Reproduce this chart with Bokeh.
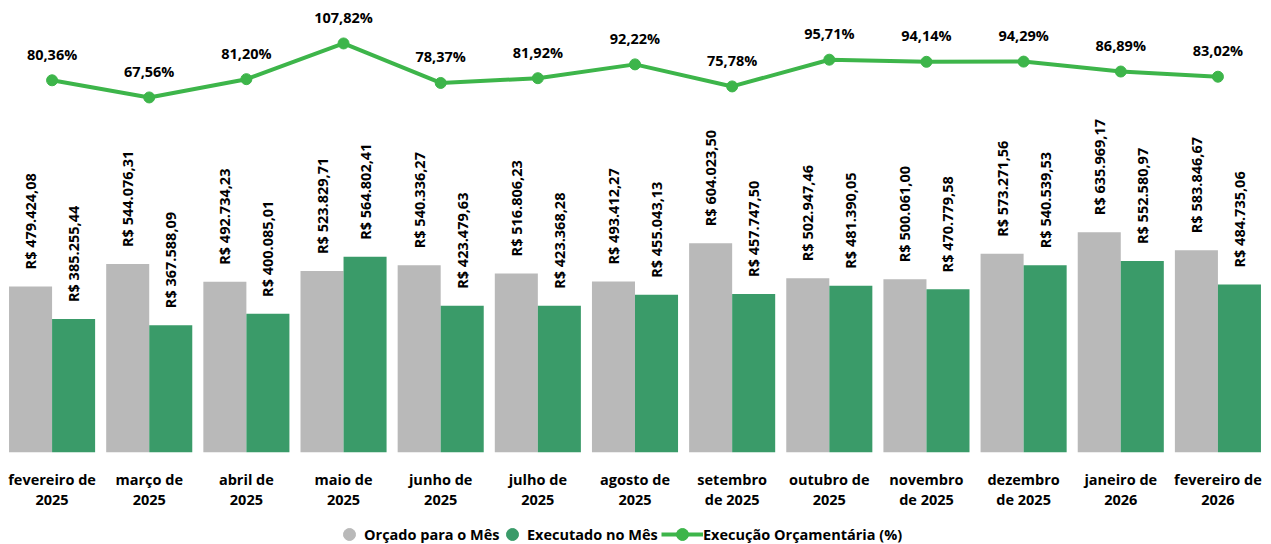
import math
from bokeh.plotting import figure
from bokeh.layouts import column
from bokeh.models import (ColumnDataSource, Range1d, LabelSet, FactorRange, Legend, LegendItem)
from bokeh.transform import dodge
from bokeh.core.properties import value
from bokeh.embed import file_html
from bokeh.resources import INLINE

months = ["fevereiro de\n2025", "março de\n2025", "abril de\n2025", "maio de\n2025",
          "junho de\n2025", "julho de\n2025", "agosto de\n2025", "setembro\nde 2025",
          "outubro de\n2025", "novembro\nde 2025", "dezembro\nde 2025", "janeiro de\n2026",
          "fevereiro de\n2026"]
orcado = [479424.08, 544076.31, 492734.23, 523829.71, 540336.27, 516806.23, 493412.27,
          604023.50, 502947.46, 500061.00, 573271.56, 635969.17, 583846.67]
executado = [385255.44, 367588.09, 400085.01, 564802.41, 423479.63, 423368.28, 455043.13,
             457747.50, 481390.05, 470779.58, 540539.53, 552580.97, 484735.06]
execucao_pct = [80.36, 67.56, 81.20, 107.82, 78.37, 81.92, 92.22, 75.78, 95.71, 94.14,
                94.29, 86.89, 83.02]
series_names = ["Orçado para o Mês", "Executado no Mês", "Execução Orçamentária (%)"]


def brl(v):
    s = f"{v:,.2f}"
    s = s.replace(",", "X").replace(".", ",").replace("X", ".")
    return "R$ " + s


def pct_fmt(v):
    return f"{v:.2f}".replace(".", ",") + "%"


src = ColumnDataSource(dict(
    cat=months,
    orcado=orcado,
    executado=executado,
    pct=execucao_pct,
    orc_lbl=[brl(v) for v in orcado],
    exe_lbl=[brl(v) for v in executado],
    pct_lbl=[pct_fmt(v) for v in execucao_pct],
))

FONT = "Open Sans"
GRAY = "#B9B9B9"
GREEN = "#3A9B69"
LINE = "#3DB54A"

p = figure(width=1271, height=512, x_range=FactorRange(factors=months, range_padding=0),
           y_range=Range1d(0, 1275600), output_backend="svg", toolbar_location=None,
           min_border_left=3, min_border_right=5, min_border_top=10, min_border_bottom=0)
p.extra_y_ranges = {"pct": Range1d(start=-197.2, end=132.4)}
p.outline_line_color = None
p.xgrid.visible = False
p.ygrid.visible = False
p.yaxis.visible = False

bw = 0.443
r_orc = p.vbar(x=dodge("cat", -bw / 2, range=p.x_range), top="orcado", width=bw, source=src,
               fill_color=GRAY, line_color=None)
r_exe = p.vbar(x=dodge("cat", bw / 2, range=p.x_range), top="executado", width=bw, source=src,
               fill_color=GREEN, line_color=None)

r_line = p.line(x="cat", y="pct", source=src, y_range_name="pct", line_color=LINE, line_width=4)
r_pts = p.scatter(x="cat", y="pct", source=src, y_range_name="pct", size=11, marker="circle",
                  fill_color=LINE, line_color=LINE)

lbl_orc = LabelSet(x=dodge("cat", -bw / 2, range=p.x_range), y="orcado", text="orc_lbl", source=src,
                   angle=math.pi / 2, text_align="left", text_baseline="middle", y_offset=17,
                   text_font=value(FONT), text_font_style="bold", text_font_size="14.5px",
                   text_color="black")
lbl_exe = LabelSet(x=dodge("cat", bw / 2, range=p.x_range), y="executado", text="exe_lbl", source=src,
                   angle=math.pi / 2, text_align="left", text_baseline="middle", y_offset=17,
                   text_font=value(FONT), text_font_style="bold", text_font_size="14.5px",
                   text_color="black")
lbl_pct = LabelSet(x="cat", y="pct", text="pct_lbl", source=src, y_range_name="pct",
                   text_align="center", text_baseline="middle", y_offset=26,
                   text_font=value(FONT), text_font_style="bold", text_font_size="14.5px",
                   text_color="black")
p.add_layout(lbl_orc)
p.add_layout(lbl_exe)
p.add_layout(lbl_pct)

ax = p.xaxis[0]
ax.axis_line_color = None
ax.major_tick_line_color = None
ax.minor_tick_line_color = None
ax.major_tick_out = 0
ax.major_tick_in = 0
ax.major_label_text_font = FONT
ax.major_label_text_font_style = "bold"
ax.major_label_text_font_size = "14.5px"
ax.major_label_text_line_height = 1.1
ax.major_label_text_color = "black"
ax.major_label_standoff = 17

# legend in its own strip below the chart
lg = figure(width=1271, height=32, x_range=Range1d(0, 1), y_range=Range1d(0, 1),
            output_backend="svg", toolbar_location=None,
            min_border_left=0, min_border_right=0, min_border_top=0, min_border_bottom=0)
lg.outline_line_color = None
lg.axis.visible = False
lg.grid.visible = False
nan = float("nan")
lsrc = ColumnDataSource(dict(x=[nan, nan], y=[nan, nan]))
g1 = lg.scatter(x="x", y="y", source=lsrc, marker="circle", size=12, fill_color=GRAY, line_color=GRAY)
g2 = lg.scatter(x="x", y="y", source=lsrc, marker="circle", size=12, fill_color=GREEN, line_color=GREEN)
g3l = lg.line(x="x", y="y", source=lsrc, line_color=LINE, line_width=4)
g3p = lg.scatter(x="x", y="y", source=lsrc, marker="circle", size=12, fill_color=LINE, line_color=LINE)

common = dict(orientation="horizontal", label_text_font=FONT, label_text_font_style="bold",
              label_text_font_size="14.5px", label_text_color="black", border_line_color=None,
              background_fill_alpha=0, padding=0, margin=0, label_standoff=0, spacing=0,
              glyph_height=30)
lg.add_layout(Legend(items=[LegendItem(label=series_names[0], renderers=[g1], index=0)],
                     location=(331, -5), glyph_width=30, **common))
lg.add_layout(Legend(items=[LegendItem(label=series_names[1], renderers=[g2], index=0)],
                     location=(494, -5), glyph_width=30, **common))
lg.add_layout(Legend(items=[LegendItem(label=series_names[2], renderers=[g3l, g3p], index=0)],
                     location=(658, -5), glyph_width=42, **common))

layout = column(p, lg, spacing=0)
open("out.html", "w").write(file_html(layout, INLINE))
